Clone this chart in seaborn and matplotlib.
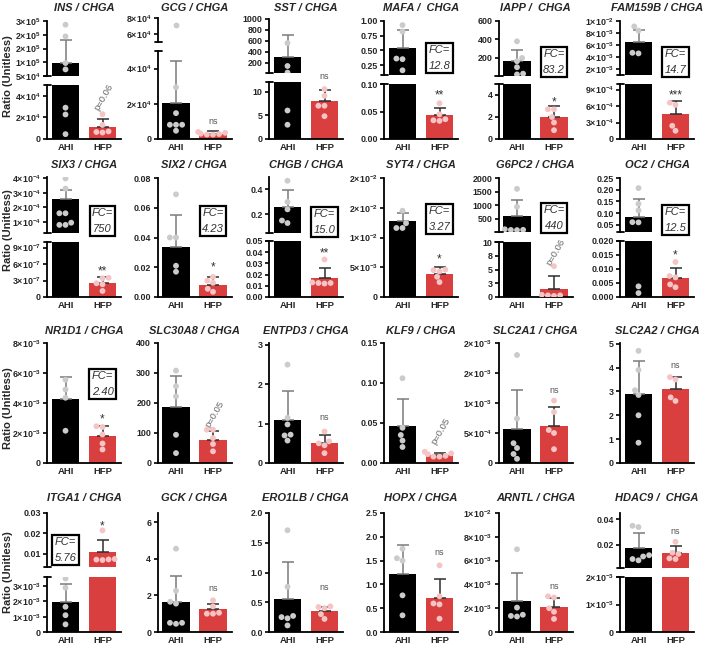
import matplotlib
matplotlib.use('Agg')
import matplotlib.pyplot as plt
from matplotlib.lines import Line2D
import pandas as pd
import seaborn as sns

# ---------------- data ----------------
genes = ['INS', 'GCG', 'SST', 'MAFA', 'IAPP', 'FAM159B',
         'SIX3', 'SIX2', 'CHGB', 'SYT4', 'G6PC2', 'OC2',
         'NR1D1', 'SLC30A8', 'ENTPD3', 'KLF9', 'SLC2A1', 'SLC2A2',
         'ITGA1', 'GCK', 'ERO1LB', 'HOPX', 'ARNTL', 'HDAC9']
titles = ['INS / CHGA', 'GCG / CHGA', 'SST / CHGA', 'MAFA /  CHGA', 'IAPP /  CHGA', 'FAM159B / CHGA',
          'SIX3 / CHGA', 'SIX2 / CHGA', 'CHGB / CHGA', 'SYT4 / CHGA', 'G6PC2 / CHGA', 'OC2 / CHGA',
          'NR1D1 / CHGA', 'SLC30A8 / CHGA', 'ENTPD3 / CHGA', 'KLF9 / CHGA', 'SLC2A1 / CHGA', 'SLC2A2 / CHGA',
          'ITGA1 / CHGA', 'GCK / CHGA', 'ERO1LB / CHGA', 'HOPX / CHGA', 'ARNTL / CHGA', 'HDAC9 /  CHGA']
groups = ['AHI', 'HFP']

# bar heights (mean) and SD (drawn upward only)
ahi_mean = [1.09e5, 2.07e4, 309, 0.54, 168, 6.5e-3,
            2.6e-4, 0.0336, 0.26, 1.285e-2, 598, 0.086,
            4.27e-3, 187, 1.10, 0.0458, 5.67e-4, 2.9,
            1.96e-3, 1.64, 0.56, 1.21, 2.6e-3, 0.0174]
ahi_sd = [1.06e5, 2.36e4, 406, 0.31, 122, 2.06e-3,
          0.6e-4, 0.0214, 0.135, 1.35e-3, 585, 0.073,
          1.44e-3, 102, 0.74, 0.0342, 6.43e-4, 1.37,
          1.2e-3, 1.41, 0.61, 0.61, 2.4e-3, 0.0117]
hfp_mean = [1.15e4, 3.0e3, 8.0, 0.0428, 2.0, 4.5e-4,
            2.5e-7, 0.0084, 0.0174, 3.94e-3, 1.5, 0.0069,
            1.78e-3, 78, 0.51, 0.0104, 6.1e-4, 3.12,
            0.0107, 1.24, 0.35, 0.72, 2.14e-3, 0.0140]
hfp_sd = [6.7e3, 1.3e3, 2.4, 0.0132, 1.0, 2.4e-4,
          1.1e-7, 0.0048, 0.0086, 1.02e-3, 2.26, 0.0033,
          0.66e-3, 30, 0.19, 0.0026, 3.3e-4, 0.47,
          0.0059, 0.27, 0.07, 0.40, 0.72e-3, 0.0052]

ins_ahi = [2.83e5, 2.3e5, 1.09e5, 8.0e4, 2.9e4, 2.27e4, 4.5e3]
ins_hfp = [2.3e4, 1.3e4, 6.5e3, 6.0e3, 7.0e3]
gcg_ahi = [7.1e4, 2.94e4, 1.47e4, 8.1e3, 8.1e3, 8.1e3, 4.7e3]
gcg_hfp = [4.0e3, 3.5e3, 3.0e3, 2.8e3, 2.5e3, 2.5e3]
sst_ahi = [560, 140, 20, 6.0, 3.0]
sst_hfp = [10.5, 9.1, 7.0, 7.0, 4.8]
mafa_ahi = [0.93, 0.82, 0.36, 0.35, 0.16]
mafa_hfp = [0.065, 0.045, 0.036, 0.034, 0.033]
iapp_ahi = [380, 200, 165, 100, 30, 22]
iapp_hfp = [2.7, 2.7, 2.0, 1.5, 0.8]
fam159b_ahi = [9.1e-3, 8.4e-3, 4.7e-3, 4.6e-3]
fam159b_hfp = [6.6e-4, 6.2e-4, 2.4e-4, 1.5e-4]
six3_ahi = [4.0e-4, 3.3e-4, 1.6e-4, 1.6e-4, 0.95e-4, 0.8e-4, 0.8e-4]
six3_hfp = [3.5e-7, 3.4e-7, 2.5e-7, 2.3e-7, 1.1e-7]
six2_ahi = [0.069, 0.040, 0.040, 0.021, 0.017]
six2_hfp = [0.0135, 0.011, 0.0095, 0.0055, 0.0035]
chgb_ahi = [0.47, 0.30, 0.24, 0.15, 0.13]
chgb_hfp = [0.0335, 0.013, 0.0125, 0.0125, 0.012]
syt4_ahi = [0.0145, 0.0124, 0.0116, 0.0116]
syt4_hfp = [4.6e-3, 4.5e-3, 4.3e-3, 3.4e-3, 2.5e-3]
g6pc2_ahi = [1600, 940, 110, 90, 85, 80]
g6pc2_hfp = [5.6, 0.4, 0.3, 0.3, 0.2]
oc2_ahi = [0.207, 0.14, 0.112, 0.062, 0.061, 0.0038, 0.0014]
oc2_hfp = [0.0125, 0.0075, 0.007, 0.0045, 0.0035]
nr1d1_ahi = [5.55e-3, 4.9e-3, 4.35e-3, 2.15e-3]
nr1d1_hfp = [2.45e-3, 2.4e-3, 1.9e-3, 1.3e-3, 0.9e-3]
slc30a8_ahi = [308, 256, 222, 94, 33]
slc30a8_hfp = [111, 111, 83, 63, 39]
entpd3_ahi = [2.5, 1.15, 0.98, 0.72, 0.7, 0.57]
entpd3_hfp = [0.8, 0.55, 0.5, 0.45, 0.25]
klf9_ahi = [0.106, 0.044, 0.035, 0.028, 0.020]
klf9_hfp = [0.014, 0.012, 0.011, 0.009, 0.008, 0.008]
slc2a1_ahi = [1.8e-3, 7.4e-4, 3.3e-4, 2.5e-4, 1.5e-4, 7e-5]
slc2a1_hfp = [1.04e-3, 8.5e-4, 5.5e-4, 5.0e-4, 2.3e-4]
slc2a2_ahi = [4.7, 3.9, 3.05, 2.85, 2.0, 0.85]
slc2a2_hfp = [3.6, 3.5, 2.75, 2.6]
itga1_ahi = [3.5e-3, 2.9e-3, 1.65e-3, 1.1e-3, 0.5e-3]
itga1_hfp = [0.0215, 0.0075, 0.0073, 0.0072, 0.0070]
gck_ahi = [4.55, 2.25, 1.65, 1.55, 0.5, 0.45, 0.5]
gck_hfp = [1.73, 1.4, 1.05, 1.0, 1.0]
ero1lb_ahi = [1.71, 0.76, 0.27, 0.25, 0.23, 0.11]
ero1lb_hfp = [0.43, 0.42, 0.4, 0.3, 0.22]
hopx_ahi = [1.75, 1.55, 1.5, 0.77, 0.35]
hopx_hfp = [1.4, 0.75, 0.6, 0.58, 0.28]
arntl_ahi = [6.95e-3, 2.05e-3, 1.45e-3, 1.35e-3, 1.3e-3]
arntl_hfp = [3.0e-3, 2.9e-3, 2.0e-3, 1.7e-3, 1.1e-3]
hdac9_ahi = [0.035, 0.034, 0.012, 0.011, 0.009, 0.008]
hdac9_hfp = [0.0225, 0.014, 0.013, 0.0095, 0.009]

significance = ['p=0.06', 'ns', 'ns', '**', '*', '***',
                '**', '*', '**', '*', 'p=0.06', '*',
                '*', 'p=0.05', 'ns', 'p=0.05', 'ns', 'ns',
                '*', 'ns', 'ns', 'ns', 'ns', 'ns']
fold_change = {'MAFA': '12.8', 'IAPP': '83.2', 'FAM159B': '14.7', 'SIX3': '750',
               'SIX2': '4.23', 'CHGB': '15.0', 'SYT4': '3.27', 'G6PC2': '440',
               'OC2': '12.5', 'NR1D1': '2.40', 'ITGA1': '5.76'}

points = {
    'INS': (ins_ahi, ins_hfp), 'GCG': (gcg_ahi, gcg_hfp), 'SST': (sst_ahi, sst_hfp),
    'MAFA': (mafa_ahi, mafa_hfp), 'IAPP': (iapp_ahi, iapp_hfp), 'FAM159B': (fam159b_ahi, fam159b_hfp),
    'SIX3': (six3_ahi, six3_hfp), 'SIX2': (six2_ahi, six2_hfp), 'CHGB': (chgb_ahi, chgb_hfp),
    'SYT4': (syt4_ahi, syt4_hfp), 'G6PC2': (g6pc2_ahi, g6pc2_hfp), 'OC2': (oc2_ahi, oc2_hfp),
    'NR1D1': (nr1d1_ahi, nr1d1_hfp), 'SLC30A8': (slc30a8_ahi, slc30a8_hfp), 'ENTPD3': (entpd3_ahi, entpd3_hfp),
    'KLF9': (klf9_ahi, klf9_hfp), 'SLC2A1': (slc2a1_ahi, slc2a1_hfp), 'SLC2A2': (slc2a2_ahi, slc2a2_hfp),
    'ITGA1': (itga1_ahi, itga1_hfp), 'GCK': (gck_ahi, gck_hfp), 'ERO1LB': (ero1lb_ahi, ero1lb_hfp),
    'HOPX': (hopx_ahi, hopx_hfp), 'ARNTL': (arntl_ahi, arntl_hfp), 'HDAC9': (hdac9_ahi, hdac9_hfp),
}


def sci(m, e):
    return r'$\mathbf{%s{\times}10^{%d}}$' % (m, e)


# y ticks per axis segment (upper first)
yticks = {
    'INS': [([5e4, 1.125e5, 1.75e5, 2.375e5, 3e5], [sci(5, 4), sci(1, 5), sci(2, 5), sci(2, 5), sci(3, 5)]),
            ([0, 2e4, 4e4], ['0', sci(2, 4), sci(4, 4)])],
    'GCG': [([6e4, 8e4], [sci(6, 4), sci(8, 4)]), ([0, 2e4, 4e4], ['0', sci(2, 4), sci(4, 4)])],
    'SST': [([200, 400, 600, 800, 1000], ['200', '400', '600', '800', '1000']), ([0, 5, 10], ['0', '5', '10'])],
    'MAFA': [([0.25, 0.5, 0.75, 1.0], ['0.25', '0.50', '0.75', '1.00']), ([0, 0.05, 0.1], ['0.00', '0.05', '0.10'])],
    'IAPP': [([200, 400, 600], ['200', '400', '600']), ([0, 2, 4], ['0', '2', '4'])],
    'FAM159B': [([2e-3, 4e-3, 6e-3, 8e-3, 1e-2], [sci(2, -3), sci(4, -3), sci(6, -3), sci(8, -3), sci(1, -2)]),
                ([0, 3e-4, 6e-4, 9e-4], ['0', sci(3, -4), sci(6, -4), sci(9, -4)])],
    'SIX3': [([1e-4, 2e-4, 3e-4, 4e-4], [sci(1, -4), sci(2, -4), sci(3, -4), sci(4, -4)]),
             ([0, 3e-7, 6e-7, 9e-7], ['0', sci(3, -7), sci(6, -7), sci(9, -7)])],
    'SIX2': [([0, 0.02, 0.04, 0.06, 0.08], ['0.00', '0.02', '0.04', '0.06', '0.08'])],
    'CHGB': [([0.2, 0.4], ['0.2', '0.4']),
             ([0, 0.01, 0.02, 0.03, 0.04, 0.05], ['0.00', '0.01', '0.02', '0.03', '0.04', '0.05'])],
    'SYT4': [([0, 5e-3, 1e-2, 1.5e-2, 2e-2], ['0', sci(5, -3), sci(1, -2), sci(2, -2), sci(2, -2)])],
    'G6PC2': [([500, 1000, 1500, 2000], ['500', '1000', '1500', '2000']),
              ([0, 2.5, 5, 7.5, 10], ['0', '3', '5', '8', '10'])],
    'OC2': [([0.05, 0.10, 0.15, 0.20, 0.25], ['0.05', '0.10', '0.15', '0.20', '0.25']),
            ([0, 0.005, 0.01, 0.015, 0.02], ['0.000', '0.005', '0.010', '0.015', '0.020'])],
    'NR1D1': [([0, 2e-3, 4e-3, 6e-3, 8e-3], ['0', sci(2, -3), sci(4, -3), sci(6, -3), sci(8, -3)])],
    'SLC30A8': [([0, 100, 200, 300, 400], ['0', '100', '200', '300', '400'])],
    'ENTPD3': [([0, 1, 2, 3], ['0', '1', '2', '3'])],
    'KLF9': [([0, 0.05, 0.10, 0.15], ['0.00', '0.05', '0.10', '0.15'])],
    'SLC2A1': [([0, 5e-4, 1e-3, 1.5e-3, 2e-3], ['0', sci(5, -4), sci(1, -3), sci(2, -3), sci(2, -3)])],
    'SLC2A2': [([0, 1, 2, 3, 4, 5], ['0', '1', '2', '3', '4', '5'])],
    'ITGA1': [([0.01, 0.02, 0.03], ['0.01', '0.02', '0.03']),
              ([0, 1e-3, 2e-3, 3e-3], ['0', sci(1, -3), sci(2, -3), sci(3, -3)])],
    'GCK': [([0, 2, 4, 6], ['0', '2', '4', '6'])],
    'ERO1LB': [([0, 0.5, 1.0, 1.5, 2.0], ['0.0', '0.5', '1.0', '1.5', '2.0'])],
    'HOPX': [([0, 0.5, 1.0, 1.5, 2.0, 2.5], ['0.0', '0.5', '1.0', '1.5', '2.0', '2.5'])],
    'ARNTL': [([0, 2e-3, 4e-3, 6e-3, 8e-3, 1e-2], ['0', sci(2, -3), sci(4, -3), sci(6, -3), sci(8, -3), sci(1, -2)])],
    'HDAC9': [([0.02, 0.04], ['0.02', '0.04']), ([0, 1e-3, 2e-3], ['0', sci(1, -3), sci(2, -3)])],
}

# ---------------- layout (pixels) ----------------
# segment: (top px, bottom px, ymin, ymax), upper segment first
segments = {
    'INS': [(21, 76, 5e4, 3e5), (85, 139, 0, 5e4)],
    'GCG': [(18, 42, 5e4, 8e4), (51, 139, 0, 5e4)],
    'SST': [(19, 73, 12, 1000), (82, 139, 0, 12)],
    'MAFA': [(21, 75, 0.08, 1.0), (84, 139, 0, 0.1)],
    'IAPP': [(21, 76, 5, 600), (84, 139, 0, 5)],
    'FAM159B': [(21, 75, 1e-3, 1e-2), (84, 139, 0, 1e-3)],
    'SIX3': [(177, 233, 2.4e-5, 4.1e-4), (242, 297, 0, 1e-6)],
    'SIX2': [(178, 297, 0, 0.08)],
    'CHGB': [(177, 233, 0.05, 0.5), (241, 297, 0, 0.05)],
    'SYT4': [(178, 297, 0, 0.02)],
    'G6PC2': [(178, 232, 10, 2000), (242, 297, 0, 10)],
    'OC2': [(178, 232, 0.02, 0.25), (241, 297, 0, 0.02)],
    'NR1D1': [(343, 463, 0, 8e-3)],
    'SLC30A8': [(343, 463, 0, 400)],
    'ENTPD3': [(343, 463, 0, 3.05)],
    'KLF9': [(343, 463, 0, 0.15)],
    'SLC2A1': [(343, 463, 0, 2e-3)],
    'SLC2A2': [(343, 463, 0, 5.03)],
    'ITGA1': [(513, 567, 3.6e-3, 0.03), (577, 632, 0, 3.6e-3)],
    'GCK': [(513, 632, 0, 6.5)],
    'ERO1LB': [(513, 632, 0, 2.0)],
    'HOPX': [(513, 632, 0, 2.5)],
    'ARNTL': [(513, 632, 0, 0.01)],
    'HDAC9': [(513, 568, 0.002, 0.045), (577, 632, 0, 0.002)],
}
fc_box = {'MAFA': (1, 58), 'IAPP': (1, 62), 'FAM159B': (1, 62), 'SIX3': (1, 221),
          'SIX2': (1, 221), 'CHGB': (1, 222), 'SYT4': (1, 219), 'G6PC2': (1, 218),
          'OC2': (1, 220), 'NR1D1': (1, 384), 'ITGA1': (0, 550)}
# distance (px) of the significance label above the HFP error bar
sig_gap = [22, 10, 13, 17, 8, 10, 10, 14, 19, 12, 24, 17,
           11, 16, 18, 21, 16, 12, 18, 16, 20, 26, 11, 14]
col_left = [47, 157.5, 269, 384, 498.5, 620]
axw = 74
title_y = [8, 165, 331, 498]
ylabel_y = [76, 230, 408, 572]
W, H = 708, 646

bar_colors = {'AHI': '#000000', 'HFP': '#d93f3f'}
dot_colors = {'AHI': '#cbcbcb', 'HFP': '#f5c4c4'}
err_colors = ['#7a7a7a', '#2e2e2e']

sns.set_theme(style='ticks')
plt.rcParams['font.family'] = ['Liberation Sans', 'DejaVu Sans']
plt.rcParams['mathtext.fontset'] = 'custom'
plt.rcParams['mathtext.rm'] = 'Liberation Sans'
plt.rcParams['mathtext.bf'] = 'Liberation Sans:bold'
plt.rcParams['mathtext.it'] = 'Liberation Sans:italic'
plt.rcParams['axes.linewidth'] = 1.3
plt.rcParams['axes.edgecolor'] = 'black'

fig = plt.figure(figsize=(W / 100, H / 100), dpi=100)


def fx(px):
    return px / W


def fy(py):
    return 1 - py / H


for k, g in enumerate(genes):
    r, c = divmod(k, 6)
    x0 = col_left[c]
    a, h = points[g]
    dots = pd.DataFrame({'group': ['AHI'] * len(a) + ['HFP'] * len(h), 'value': a + h})
    bars = pd.DataFrame({'group': groups, 'mean': [ahi_mean[k], hfp_mean[k]]})
    sds = [ahi_sd[k], hfp_sd[k]]
    segs = segments[g]
    n = len(segs)
    for j, (yt, yb, lo, hi) in enumerate(segs):
        ax = fig.add_axes([fx(x0), fy(yb), fx(axw), (yb - yt) / H])
        sns.barplot(data=bars, x='group', y='mean', hue='group', palette=bar_colors,
                    order=groups, width=0.74, errorbar=None, legend=False,
                    saturation=1, linewidth=0, ax=ax)
        for i in range(2):
            top = bars['mean'][i] + sds[i]
            if top < lo:
                continue
            ax.errorbar(i, bars['mean'][i], yerr=[[0], [sds[i]]], color=err_colors[i],
                        lw=1.1, capsize=4.5, capthick=1.1, zorder=3)
        # only the points that fall inside this segment
        if n > 1 and j == 0:
            seg_dots = dots[dots['value'] >= lo]
        elif n > 1:
            seg_dots = dots[dots['value'] <= hi]
        else:
            seg_dots = dots
        sns.swarmplot(data=seg_dots, x='group', y='value', hue='group', palette=dot_colors,
                      order=groups, hue_order=groups, size=4.2, linewidth=0, legend=False,
                      ax=ax, zorder=4)
        ax.set_xlim(-0.5, 1.5)
        ax.set_ylim(lo, hi)
        ax.set_xlabel('')
        ax.set_ylabel('')
        tv, tl = yticks[g][j]
        ax.set_yticks(tv)
        ax.set_yticklabels(tl, fontsize=6.4, fontweight='bold')
        ax.tick_params(axis='y', length=3, width=1.2, pad=1.5, color='black')
        ax.spines[['top', 'right']].set_visible(False)
        ax.patch.set_alpha(0)
        if j == n - 1:
            ax.set_xticks([0, 1])
            ax.set_xticklabels(groups, fontsize=6.8, fontweight='bold')
            ax.tick_params(axis='x', length=0, pad=3)
        else:
            ax.spines['bottom'].set_visible(False)
            ax.set_xticks([])
        # break marks on the y axis
        if n > 1:
            yy = yb if j == 0 else yt
            fig.add_artist(Line2D([fx(x0 - 3), fx(x0 + 4)], [fy(yy), fy(yy)],
                                  color='black', lw=1.3))
        # significance label, in the segment holding the HFP error bar
        top = hfp_mean[k] + hfp_sd[k]
        if lo <= top <= hi:
            s = significance[k]
            gap = sig_gap[k] * 0.72
            if s.startswith('p='):
                ax.annotate(s, xy=(1, top), xytext=(1, gap), textcoords='offset points',
                            ha='center', va='center', rotation=60, fontsize=6.8,
                            color='#666666', annotation_clip=False)
            elif s == 'ns':
                ax.annotate(s, xy=(1, top), xytext=(0, gap), textcoords='offset points',
                            ha='center', va='center', fontsize=6.5, color='#555555',
                            annotation_clip=False)
            else:
                ax.annotate(s, xy=(1, top), xytext=(0, gap - 3), textcoords='offset points',
                            ha='center', va='center', fontsize=8.5, color='#333333',
                            annotation_clip=False)
    # title
    fig.text(fx(x0 + axw / 2), fy(title_y[r]), titles[k], ha='center', va='center',
             fontsize=8, fontweight='bold', fontstyle='italic')
    if g in fold_change:
        ci, py = fc_box[g]
        fig.text(fx(x0 + 18.5 + 37 * ci), fy(py), 'FC=\n' + fold_change[g], ha='center',
                 va='center', fontsize=8, fontstyle='italic', color='#333333',
                 linespacing=1.7,
                 bbox=dict(boxstyle='square,pad=0.2', fc='white', ec='black', lw=1.6))

for r in range(4):
    fig.text(fx(8), fy(ylabel_y[r]), 'Ratio (Unitless)', rotation=90, ha='center',
             va='center', fontsize=8, fontweight='bold')

fig.savefig('out.png', dpi=100, facecolor='white')
